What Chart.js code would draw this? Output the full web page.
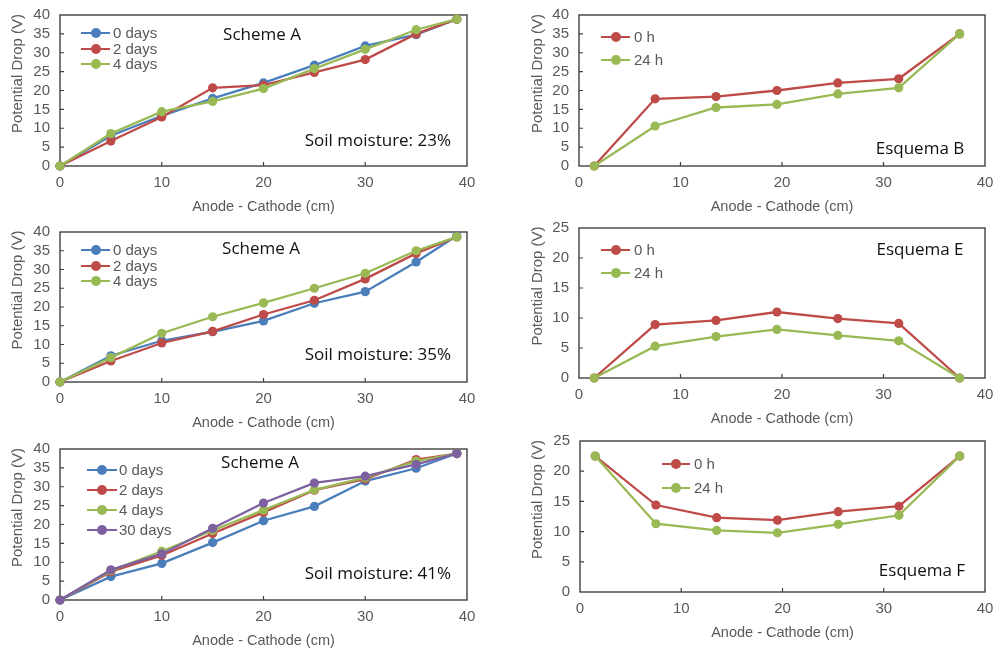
<!DOCTYPE html>
<html>
<head>
<meta charset="utf-8">
<script src="https://cdn.jsdelivr.net/npm/chart.js@4.4.1/dist/chart.umd.min.js"></script>
<style>
  html, body { margin:0; padding:0; background:#fff; }
  body { width:1000px; height:653px; position:relative; overflow:hidden; font-family:"Liberation Sans", Arial, sans-serif; }
  .panel { position:absolute; }
  .panel canvas { position:absolute; left:0; top:0; }
  .note { position:absolute; font-family:"Open Sans", "Noto Sans", sans-serif; font-size:17px; color:#111; white-space:nowrap; line-height:1; }
  .c { transform:translate(-50%,-50%); }
  .r { transform:translate(-100%,-50%); }
  .leg { position:absolute; font-size:15px; color:#595959; white-space:nowrap; line-height:1; }
  .legline { position:absolute; height:2.4px; }
  .legdot { position:absolute; width:10px; height:10px; border-radius:50%; }
</style>
</head>
<body>
<script>
// ---------------- DATA ----------------
const xA = [0, 5, 10, 15, 20, 25, 30, 35, 39];
const xB = [1.5, 7.5, 13.5, 19.5, 25.5, 31.5, 37.5];

const xTickVals = [0, 10, 20, 30, 40];
const yTicks40 = [0, 5, 10, 15, 20, 25, 30, 35, 40];
const yTicks25 = [0, 5, 10, 15, 20, 25];

const labelsDays3 = ['0 days', '2 days', '4 days'];
const labelsDays4 = ['0 days', '2 days', '4 days', '30 days'];
const labelsHours = ['0 h', '24 h'];

// Scheme A, soil moisture 23%
const a23_d0 = [0, 8.0, 13.3, 17.9, 22.0, 26.7, 31.8, 34.8, 38.9];
const a23_d2 = [0, 6.6, 13.0, 20.7, 21.4, 24.8, 28.2, 35.0, 38.9];
const a23_d4 = [0, 8.6, 14.4, 17.1, 20.5, 25.8, 30.9, 36.1, 38.9];

// Scheme A, soil moisture 35%
const a35_d0 = [0, 7.0, 11.0, 13.4, 16.3, 21.0, 24.1, 32.0, 39.0];
const a35_d2 = [0, 5.6, 10.4, 13.5, 18.0, 21.8, 27.5, 34.3, 38.7];
const a35_d4 = [0, 6.5, 13.0, 17.4, 21.1, 25.0, 29.0, 35.0, 38.7];

// Scheme A, soil moisture 41%
const a41_d0  = [0, 6.2, 9.7, 15.2, 21.0, 24.8, 31.5, 34.9, 38.8];
const a41_d2  = [0, 7.5, 11.8, 17.6, 23.2, 29.1, 32.0, 37.2, 38.8];
const a41_d4  = [0, 7.8, 12.9, 18.4, 23.8, 29.2, 32.4, 36.8, 38.8];
const a41_d30 = [0, 8.0, 12.2, 19.0, 25.7, 31.0, 32.8, 35.9, 38.8];

// Esquema B
const b_h0  = [0, 17.8, 18.4, 20.0, 22.0, 23.1, 35.0];
const b_h24 = [0, 10.6, 15.5, 16.3, 19.1, 20.7, 35.0];
// Esquema E
const e_h0  = [0, 8.9, 9.6, 11.0, 9.9, 9.1, 0];
const e_h24 = [0, 5.3, 6.9, 8.1, 7.1, 6.2, 0];
// Esquema F
const f_h0  = [22.5, 14.4, 12.3, 11.9, 13.3, 14.2, 22.5];
const f_h24 = [22.5, 11.3, 10.2, 9.8, 11.2, 12.7, 22.5];

const xTitle = 'Anode - Cathode (cm)';
const yTitle = 'Potential Drop (V)';

// ---------------- STYLE ----------------
const BLUE = '#4A7EBB', RED = '#BE4B48', GREEN = '#98B954', PURPLE = '#7D60A0';
const TXT = '#595959', AXIS = '#404040';
const FAM = '"Liberation Sans", Arial, sans-serif';

const panels = [
  { left:0,   top:5,   width:490, plotH:151, yw:60, padR:23, x:xA, ys:[a23_d0,a23_d2,a23_d4], labels:labelsDays3, colors:[BLUE,RED,GREEN], yTicks:yTicks40,
    legend:{x0:81, x1:110, tx:113, rows:[33,49,64]},
    notes:[{t:'Scheme A', x:262, y:33, cls:'c'}, {t:'Soil moisture: 23%', x:451, y:139, cls:'r'}] },
  { left:520, top:5,   width:480, plotH:151, yw:59, padR:15, x:xB, ys:[b_h0,b_h24], labels:labelsHours, colors:[RED,GREEN], yTicks:yTicks40,
    legend:{x0:601, x1:630, tx:634, rows:[37,60]},
    notes:[{t:'Esquema B', x:920, y:147, cls:'c'}] },
  { left:0,   top:222, width:490, plotH:150, yw:60, padR:23, x:xA, ys:[a35_d0,a35_d2,a35_d4], labels:labelsDays3, colors:[BLUE,RED,GREEN], yTicks:yTicks40,
    legend:{x0:81, x1:110, tx:113, rows:[250,266,281]},
    notes:[{t:'Scheme A', x:261, y:247, cls:'c'}, {t:'Soil moisture: 35%', x:451, y:353, cls:'r'}] },
  { left:520, top:218, width:480, plotH:150, yw:59, padR:15, x:xB, ys:[e_h0,e_h24], labels:labelsHours, colors:[RED,GREEN], yTicks:yTicks25,
    legend:{x0:601, x1:630, tx:634, rows:[250,273]},
    notes:[{t:'Esquema E', x:920, y:248, cls:'c'}] },
  { left:0,   top:439, width:490, plotH:151, yw:60, padR:23, x:xA, ys:[a41_d0,a41_d2,a41_d4,a41_d30], labels:labelsDays4, colors:[BLUE,RED,GREEN,PURPLE], yTicks:yTicks40,
    legend:{x0:87, x1:117, tx:119, rows:[470,490,510,530]},
    notes:[{t:'Scheme A', x:260, y:461, cls:'c'}, {t:'Soil moisture: 41%', x:451, y:572, cls:'r'}] },
  { left:520, top:431, width:480, plotH:151, yw:60, padR:15, x:xB, ys:[f_h0,f_h24], labels:labelsHours, colors:[RED,GREEN], yTicks:yTicks25,
    legend:{x0:662, x1:690, tx:694, rows:[464,488]},
    notes:[{t:'Esquema F', x:922, y:569, cls:'c'}] }
];

const framePlugin = {
  id: 'frame',
  beforeDatasetsDraw(chart) {
    const {ctx, chartArea: a, scales} = chart;
    ctx.save();
    ctx.strokeStyle = AXIS;
    ctx.lineWidth = 1.4;
    ctx.strokeRect(a.left, a.top, a.right - a.left, a.bottom - a.top);
    ctx.lineWidth = 1.2;
    ctx.beginPath();
    scales.x.ticks.forEach(t => {
      if (t.value <= scales.x.min || t.value >= scales.x.max) return;
      const px = scales.x.getPixelForValue(t.value);
      ctx.moveTo(px, a.bottom); ctx.lineTo(px, a.bottom - 4);
    });
    scales.y.ticks.forEach(t => {
      if (t.value <= scales.y.min || t.value >= scales.y.max) return;
      const py = scales.y.getPixelForValue(t.value);
      ctx.moveTo(a.left, py); ctx.lineTo(a.left + 4, py);
    });
    ctx.stroke();
    ctx.restore();
  },
  afterDraw(chart) {
    const {ctx, chartArea: a} = chart;
    ctx.save();
    ctx.fillStyle = TXT;
    ctx.font = '15px ' + FAM;
    ctx.textAlign = 'center';
    ctx.textBaseline = 'middle';
    ctx.translate(18, (a.top + a.bottom) / 2 - 17);
    ctx.rotate(-Math.PI / 2);
    ctx.fillText(yTitle, 0, 0);
    ctx.restore();
  }
};

panels.forEach(p => {
  const H = 10 + p.plotH + 50;
  const div = document.createElement('div');
  div.className = 'panel';
  div.style.left = p.left + 'px';
  div.style.top = p.top + 'px';
  div.style.width = p.width + 'px';
  div.style.height = H + 'px';
  const cv = document.createElement('canvas');
  cv.width = p.width; cv.height = H;
  div.appendChild(cv);
  document.body.appendChild(div);

  const n = p.ys.length;
  const datasets = p.ys.map((ys, i) => ({
    label: p.labels[i],
    data: p.x.map((xv, j) => ({x: xv, y: ys[j]})),
    borderColor: p.colors[i],
    backgroundColor: p.colors[i],
    pointBackgroundColor: p.colors[i],
    pointBorderColor: p.colors[i],
    borderWidth: 2.3,
    pointRadius: 4.6,
    pointBorderWidth: 0,
    pointHoverRadius: 4.6,
    tension: 0,
    clip: false,
    order: n - i
  }));
  const ymax = p.yTicks[p.yTicks.length - 1];

  new Chart(cv, {
    type: 'line',
    data: { datasets },
    options: {
      responsive: false,
      animation: false,
      events: [],
      layout: { padding: { left: 0, right: p.padR, top: 10, bottom: 0 } },
      plugins: { legend: { display: false }, tooltip: { enabled: false } },
      scales: {
        x: {
          type: 'linear', min: 0, max: 40,
          afterBuildTicks: s => { s.ticks = xTickVals.map(v => ({value: v})); },
          afterFit: s => { s.height = 50; s.paddingLeft = 0; s.paddingRight = 0; s.paddingTop = 0; s.paddingBottom = 0; },
          grid: { display: false, drawTicks: false },
          border: { display: false },
          ticks: { color: TXT, font: { size: 15, family: FAM }, padding: 8, maxRotation: 0, autoSkip: false },
          title: { display: true, text: xTitle, color: TXT, font: { size: 14.5, family: FAM }, padding: { top: 0, bottom: 0 } }
        },
        y: {
          type: 'linear', min: 0, max: ymax,
          afterBuildTicks: s => { s.ticks = p.yTicks.map(v => ({value: v})); },
          afterFit: s => { s.width = p.yw; s.paddingLeft = 0; s.paddingRight = 0; s.paddingTop = 0; s.paddingBottom = 0; },
          grid: { display: false, drawTicks: false },
          border: { display: false },
          ticks: { color: TXT, font: { size: 15, family: FAM }, padding: 10, autoSkip: false }
        }
      }
    },
    plugins: [framePlugin]
  });

  // legend built from the datasets
  datasets.forEach((ds, i) => {
    const y = p.legend.rows[i];
    const line = document.createElement('div');
    line.className = 'legline';
    line.style.left = p.legend.x0 + 'px';
    line.style.width = (p.legend.x1 - p.legend.x0) + 'px';
    line.style.top = (y - 1.2) + 'px';
    line.style.background = ds.borderColor;
    document.body.appendChild(line);
    const dot = document.createElement('div');
    dot.className = 'legdot';
    dot.style.left = ((p.legend.x0 + p.legend.x1) / 2 - 5) + 'px';
    dot.style.top = (y - 5) + 'px';
    dot.style.background = ds.borderColor;
    document.body.appendChild(dot);
    const t = document.createElement('div');
    t.className = 'leg';
    t.textContent = ds.label;
    t.style.left = p.legend.tx + 'px';
    t.style.top = (y - 8) + 'px';
    document.body.appendChild(t);
  });

  p.notes.forEach(nt => {
    const d = document.createElement('div');
    d.className = 'note ' + nt.cls;
    d.textContent = nt.t;
    d.style.left = nt.x + 'px';
    d.style.top = nt.y + 'px';
    document.body.appendChild(d);
  });
});
</script>
</body>
</html>
